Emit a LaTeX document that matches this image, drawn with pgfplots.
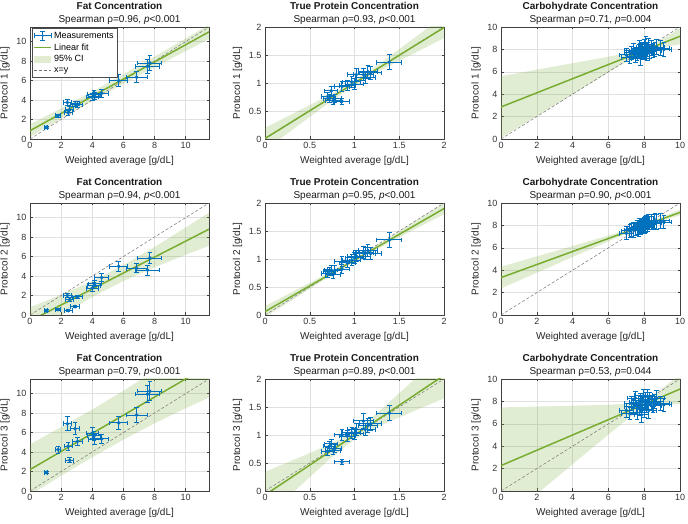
\documentclass[border=0pt]{standalone}
\usepackage{fontspec}
\setmainfont{Liberation Sans}
\usepackage{pgfplots}
\usepackage{pgfplotstable}
\pgfplotsset{compat=1.18}
\definecolor{mblue}{RGB}{0,114,189}
\definecolor{fitgreen}{RGB}{119,172,48}

\pgfplotstableread{
x ex y1 ey1 y2 ey2 y3 ey3
1.05 0.10 1.20 0.12 0.45 0.10 1.90 0.15
1.80 0.18 2.40 0.15 0.55 0.10 4.25 0.35
2.40 0.24 3.75 0.30 2.00 0.25 6.90 0.70
2.45 0.25 2.70 0.25 0.45 0.10 4.60 0.40
2.55 0.26 3.00 0.30 1.60 0.20 3.15 0.25
2.90 0.30 3.60 0.30 0.85 0.12 6.40 0.60
3.05 0.30 3.50 0.30 1.85 0.15 5.10 0.40
4.00 0.40 4.30 0.35 2.75 0.30 5.95 0.60
4.10 0.40 4.60 0.35 3.00 0.30 5.65 0.50
4.15 0.42 4.40 0.35 3.20 0.30 5.30 0.50
4.60 0.46 4.70 0.40 3.85 0.40 5.35 0.50
5.70 0.57 6.00 0.60 5.00 0.50 7.00 0.65
6.85 0.68 6.35 0.60 4.80 0.45 7.80 0.75
7.55 0.75 7.45 0.70 4.60 0.50 9.95 0.90
7.70 0.77 7.80 0.80 5.85 0.60 10.25 1.00
}\fat

\pgfplotstableread{
x ex y1 ey1 y2 ey2 y3 ey3
0.70 0.07 0.76 0.07 0.74 0.07 0.71 0.07
0.72 0.07 0.72 0.07 0.78 0.07 0.80 0.08
0.74 0.07 0.86 0.08 0.80 0.08 0.84 0.08
0.76 0.08 0.68 0.07 0.72 0.07 0.72 0.07
0.78 0.08 0.72 0.07 0.80 0.08 0.76 0.07
0.86 0.08 0.67 0.06 0.82 0.08 0.52 0.05
0.86 0.08 0.94 0.09 0.95 0.09 1.00 0.10
0.92 0.09 0.95 0.09 0.93 0.09 0.98 0.10
0.97 0.10 1.02 0.10 0.98 0.10 1.04 0.10
1.00 0.10 0.98 0.10 1.02 0.10 1.02 0.10
1.02 0.10 1.15 0.11 1.05 0.10 1.10 0.11
1.10 0.11 1.15 0.11 1.12 0.11 1.25 0.13
1.12 0.11 1.10 0.11 1.10 0.11 1.10 0.11
1.15 0.11 1.20 0.12 1.15 0.11 1.17 0.12
1.18 0.12 1.18 0.12 1.10 0.11 1.20 0.12
1.39 0.14 1.37 0.13 1.34 0.13 1.39 0.13
}\prot

\pgfplotstableread{
x ex y1 y2 y3 ey
7.00 0.40 7.50 7.30 7.20 0.60
7.20 0.45 7.30 7.50 6.90 0.55
7.30 0.40 7.70 7.60 7.80 0.60
7.40 0.50 7.90 7.60 7.50 0.65
7.50 0.45 7.40 7.70 8.30 0.60
7.60 0.40 7.60 7.80 7.00 0.60
7.70 0.50 7.80 7.70 7.90 0.65
7.75 0.45 8.10 7.90 7.40 0.70
7.80 0.50 7.20 7.80 8.10 0.60
7.85 0.40 7.90 7.90 6.80 0.65
7.90 0.45 8.00 8.00 7.70 0.65
7.95 0.50 7.70 7.90 8.50 0.60
8.00 0.45 8.20 8.00 7.30 0.70
8.05 0.50 7.90 8.10 7.90 0.65
8.10 0.40 8.40 8.10 8.00 0.75
8.15 0.45 7.60 8.20 7.60 0.60
8.20 0.50 8.00 8.10 8.40 0.65
8.25 0.45 8.30 8.30 7.20 0.70
8.30 0.40 7.80 8.20 8.20 0.60
8.40 0.50 8.10 8.30 7.90 0.65
8.50 0.45 7.90 8.20 7.60 0.60
8.60 0.50 8.00 8.40 8.00 0.65
8.70 0.45 8.20 8.30 8.30 0.70
8.90 0.50 8.10 8.40 7.80 0.65
9.10 0.45 8.00 8.30 7.70 0.60
}\carb

\pgfplotsset{
  panel/.style={
    scale only axis, width=179pt, height=112pt, anchor=south west,
    grid=major, grid style={black!12, line width=0.4pt},
    axis line style={black!75, line width=0.5pt},
    tick style={black!75, line width=0.5pt},
    tick align=inside, major tick length=2.5pt,
    ticklabel style={font=\fontsize{9}{10}\selectfont, text=black!80},
    label style={font=\fontsize{10}{12}\selectfont, text=black!85},
    title style={font=\fontsize{10}{13}\selectfont, align=center, text=black!90, yshift=-7pt},
    xlabel={Weighted average [g/dL]},
    /pgf/number format/assume math mode=true,
  },
  fatax/.style={panel, xmin=0, xmax=11.5, ymin=0, ymax=11.5, xtick={0,2,4,6,8,10}, ytick={0,2,4,6,8,10}},
  protax/.style={panel, xmin=0, xmax=2, ymin=0, ymax=2, xtick={0,0.5,1,1.5,2}, ytick={0,0.5,1,1.5,2}},
  carbax/.style={panel, xmin=0, xmax=10, ymin=0, ymax=10, xtick={0,2,4,6,8,10}, ytick={0,2,4,6,8,10}},
  meas/.style={forget plot, only marks, mark=*, mark size=1.3pt, color=mblue, line width=1pt,
    error bars/.cd, x dir=both, x explicit, y dir=both, y explicit,
    error bar style={line width=1pt, mblue},
    error mark options={rotate=90, mblue, mark size=2.3pt, line width=1pt}},
  fitline/.style={forget plot, fitgreen, line width=1.5pt, no marks},
  band/.style={forget plot, fill=fitgreen, fill opacity=0.22, draw=none, no marks},
  idline/.style={forget plot, black!55, dash pattern=on 3pt off 2pt, line width=0.5pt, no marks},
}

\begin{document}
\begin{tikzpicture}
\useasboundingbox (0,0) rectangle (688pt,524pt);

% ---------- Row 1 ----------
\begin{axis}[fatax, at={(30pt,385pt)}, ylabel={Protocol 1 [g/dL]},
  title={\textbf{Fat Concentration}\\Spearman ρ=0.96, \textit{p}<0.001},
  legend style={at={(0.01,0.99)}, anchor=north west, font=\fontsize{9}{11}\selectfont,
    draw=black!70, fill=white, inner sep=1.5pt, row sep=0pt, cells={anchor=west}}]
\addlegendimage{legend image code/.code={
  \draw[draw=mblue, line width=1pt] (0mm,0mm)--(6mm,0mm) (3mm,-1.6mm)--(3mm,1.6mm)
   (0mm,-0.9mm)--(0mm,0.9mm) (6mm,-0.9mm)--(6mm,0.9mm) (2.1mm,1.6mm)--(3.9mm,1.6mm) (2.1mm,-1.6mm)--(3.9mm,-1.6mm);
  \path[draw=none, fill=mblue] (3mm,0mm) circle (1.3pt);}}
\addlegendentry{Measurements}
\addlegendimage{legend image code/.code={\draw[draw=fitgreen, line width=1.5pt] (0mm,0mm)--(6mm,0mm);}}
\addlegendentry{Linear fit}
\addlegendimage{legend image code/.code={\path[draw=none, fill=fitgreen, fill opacity=0.22] (0mm,-1.3mm) rectangle (6mm,1.3mm);}}
\addlegendentry{95\% CI}
\addlegendimage{legend image code/.code={\draw[draw=black!55, dash pattern=on 3pt off 2pt, line width=0.5pt] (0mm,0mm)--(6mm,0mm);}}
\addlegendentry{x=y}
\addplot[band] coordinates {(0,1.50)(2,3.16)(4,4.87)(6,6.64)(8,8.46)(10,10.33)(11.5,11.74)(11.5,10.26)(10,9.03)(8,7.37)(6,5.66)(4,3.90)(2,2.07)(0,0.20)};
\addplot[idline] coordinates {(0,0)(11.5,11.5)};
\addplot[fitline] coordinates {(0,0.85)(11.5,11.0)};
\addplot[meas] table[x=x, y=y1, x error=ex, y error=ey1] {\fat};
\end{axis}

\begin{axis}[protax, at={(265pt,385pt)}, ylabel={Protocol 1 [g/dL]},
  title={\textbf{True Protein Concentration}\\Spearman ρ=0.93, \textit{p}<0.001}]
\addplot[band] coordinates {(0,0.199)(0.25,0.402)(0.5,0.605)(0.75,0.813)(1,1.04)(1.25,1.313)(1.5,1.605)(1.75,1.902)(2,2.199)(2,1.801)(1.75,1.598)(1.5,1.395)(1.25,1.187)(1,0.96)(0.75,0.687)(0.5,0.395)(0.25,0.098)(0,-0.199)};
\addplot[idline] coordinates {(0,0)(2,2)};
\addplot[fitline] coordinates {(0,0.01)(2,1.99)};
\addplot[meas] table[x=x, y=y1, x error=ex, y error=ey1] {\prot};
\end{axis}

\begin{axis}[carbax, at={(501pt,385pt)}, ylabel={Protocol 1 [g/dL]},
  title={\textbf{Carbohydrate Concentration}\\Spearman ρ=0.71, \textit{p}=0.004}]
\addplot[band] coordinates {(0,5.612)(1,5.900)(2,6.188)(3,6.476)(4,6.765)(5,7.055)(6,7.347)(7,7.648)(7.5,7.816)(8,8.049)(8.5,8.447)(9,8.910)(10,9.871)(10,8.469)(9,8.168)(8.5,8.002)(8,7.767)(7.5,7.371)(7,6.906)(6,5.945)(5,4.975)(4,4.003)(3,3.030)(2,2.056)(1,1.082)(0,0.108)};
\addplot[idline] coordinates {(0,0)(10,10)};
\addplot[fitline] coordinates {(0,2.86)(10,9.17)};
\addplot[meas] table[x=x, y=y1, x error=ex, y error=ey] {\carb};
\end{axis}

% ---------- Row 2 ----------
\begin{axis}[fatax, at={(30pt,209pt)}, ylabel={Protocol 2 [g/dL]},
  title={\textbf{Fat Concentration}\\Spearman ρ=0.94, \textit{p}<0.001}]
\addplot[band] coordinates {(0,0.79)(2,2.08)(4,3.48)(6,5.12)(8,6.99)(10,8.98)(11.5,10.50)(11.5,7.10)(10,6.18)(8,4.90)(6,3.49)(4,1.85)(2,-0.02)(0,-2.01)};
\addplot[idline] coordinates {(0,0)(11.5,11.5)};
\addplot[fitline] coordinates {(0,-0.61)(11.5,8.81)};
\addplot[meas] table[x=x, y=y2, x error=ex, y error=ey2] {\fat};
\end{axis}

\begin{axis}[protax, at={(265pt,209pt)}, ylabel={Protocol 2 [g/dL]},
  title={\textbf{True Protein Concentration}\\Spearman ρ=0.95, \textit{p}<0.001}]
\addplot[band] coordinates {(0,0.16)(0.25,0.367)(0.5,0.575)(0.75,0.785)(1,1.005)(1.25,1.245)(1.5,1.495)(1.75,1.747)(2,2.0)(2,1.80)(1.75,1.593)(1.5,1.386)(1.25,1.175)(1,0.955)(0.75,0.715)(0.5,0.466)(0.25,0.213)(0,-0.04)};
\addplot[idline] coordinates {(0,0)(2,2)};
\addplot[fitline] coordinates {(0,0.06)(2,1.90)};
\addplot[meas] table[x=x, y=y2, x error=ex, y error=ey2] {\prot};
\end{axis}

\begin{axis}[carbax, at={(501pt,209pt)}, ylabel={Protocol 2 [g/dL]},
  title={\textbf{Carbohydrate Concentration}\\Spearman ρ=0.90, \textit{p}<0.001}]
\addplot[band] coordinates {(0,4.309)(1,4.771)(2,5.233)(3,5.696)(4,6.16)(5,6.625)(6,7.093)(7,7.571)(7.5,7.822)(8,8.096)(8.5,8.404)(9,8.735)(10,9.421)(10,8.899)(9,8.421)(8.5,8.17)(8,7.896)(7.5,7.588)(7,7.257)(6,6.571)(5,5.875)(4,5.176)(3,4.476)(2,3.775)(1,3.073)(0,2.372)};
\addplot[idline] coordinates {(0,0)(10,10)};
\addplot[fitline] coordinates {(0,3.34)(10,9.16)};
\addplot[meas] table[x=x, y=y2, x error=ex, y error=ey] {\carb};
\end{axis}

% ---------- Row 3 ----------
\begin{axis}[fatax, at={(30pt,33pt)}, ylabel={Protocol 3 [g/dL]},
  title={\textbf{Fat Concentration}\\Spearman ρ=0.79, \textit{p}<0.001}]
\addplot[band] coordinates {(0,4.8)(2,6.56)(4,8.37)(6,10.28)(8,12.34)(10,14.5)(11.5,16.2)(11.5,9.6)(10,8.5)(8,6.94)(6,5.28)(4,3.47)(2,1.56)(0,-0.4)};
\addplot[idline] coordinates {(0,0)(11.5,11.5)};
\addplot[fitline] coordinates {(0,2.2)(11.5,12.9)};
\addplot[meas] table[x=x, y=y3, x error=ex, y error=ey3] {\fat};
\end{axis}

\begin{axis}[protax, at={(265pt,33pt)}, ylabel={Protocol 3 [g/dL]},
  title={\textbf{True Protein Concentration}\\Spearman ρ=0.89, \textit{p}<0.001}]
\addplot[band] coordinates {(0,0.341)(0.25,0.509)(0.5,0.678)(0.75,0.854)(1,1.068)(1.25,1.388)(1.5,1.746)(1.75,2.111)(2,2.477)(2,1.653)(1.75,1.485)(1.5,1.316)(1.25,1.14)(1,0.926)(0.75,0.606)(0.5,0.248)(0.25,-0.117)(0,-0.483)};
\addplot[idline] coordinates {(0,0)(2,2)};
\addplot[fitline] coordinates {(0,-0.071)(2,2.065)};
\addplot[meas] table[x=x, y=y3, x error=ex, y error=ey3] {\prot};
\end{axis}

\begin{axis}[carbax, at={(501pt,33pt)}, ylabel={Protocol 3 [g/dL]},
  title={\textbf{Carbohydrate Concentration}\\Spearman ρ=0.53, \textit{p}=0.044}]
\addplot[band] coordinates {(0,7.464)(1,7.501)(2,7.537)(3,7.575)(4,7.614)(5,7.655)(6,7.702)(7,7.772)(7.5,7.846)(8,8.05)(8.5,8.529)(9,9.138)(10,10.434)(10,7.766)(9,7.696)(8.5,7.623)(8,7.418)(7.5,6.94)(7,6.33)(6,5.034)(5,3.715)(4,2.39)(3,1.063)(2,-0.265)(1,-1.595)(0,-2.924)};
\addplot[idline] coordinates {(0,0)(10,10)};
\addplot[fitline] coordinates {(0,2.27)(10,9.1)};
\addplot[meas] table[x=x, y=y3, x error=ex, y error=ey] {\carb};
\end{axis}
\end{tikzpicture}
\end{document}
